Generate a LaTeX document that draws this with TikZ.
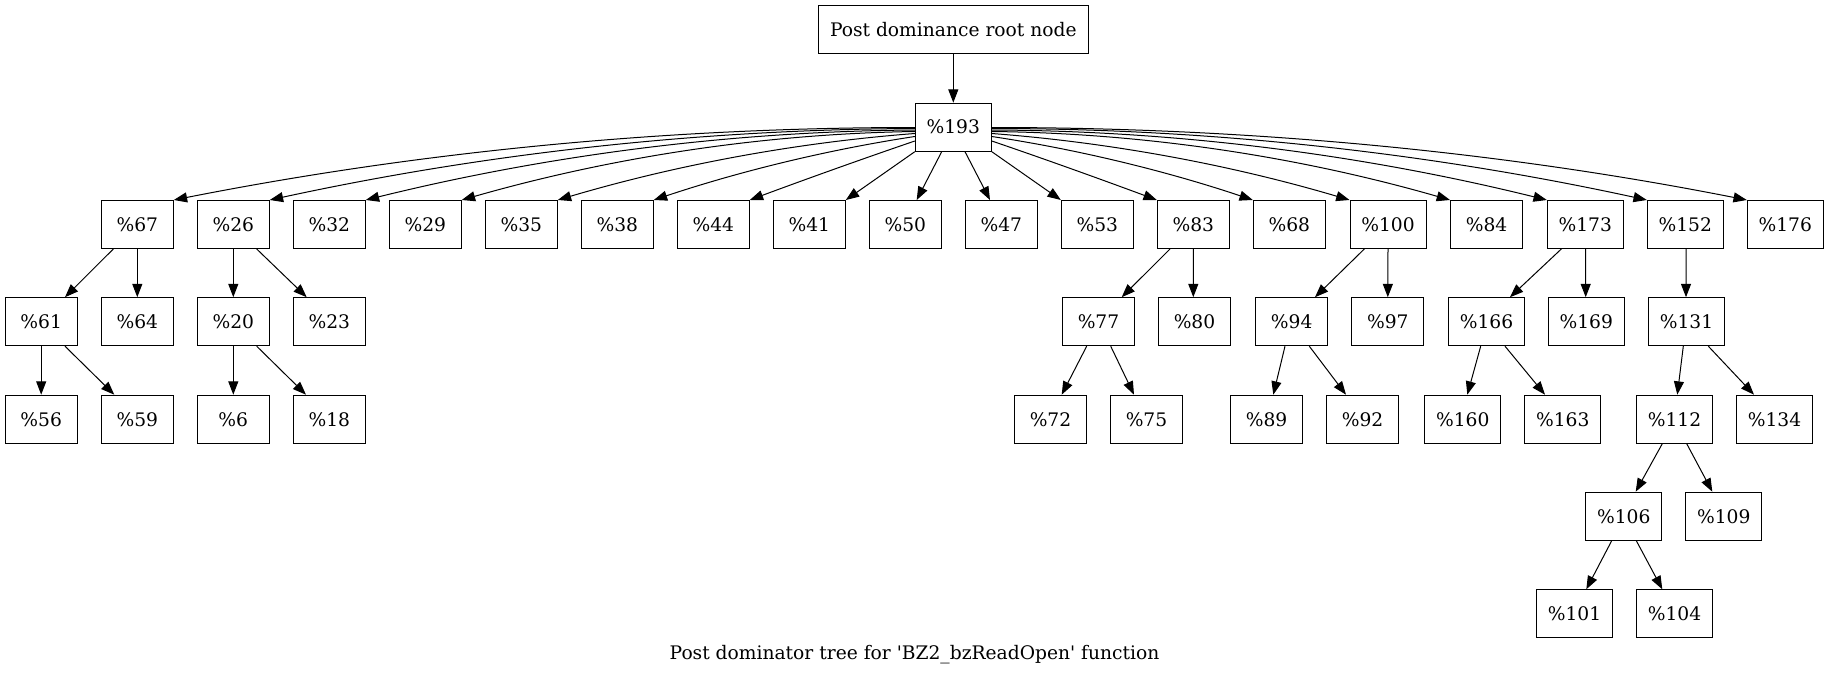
\documentclass[tikz,border=0pt]{standalone}
\usepackage{fontspec}
\newfontfamily\dvs{DejaVu Serif}
\usetikzlibrary{arrows.meta,calc}
\tikzset{
  nb/.style={draw, line width=0.75pt, rectangle, minimum width=54pt, minimum height=36pt,
             inner sep=0pt, font=\dvs\fontsize{14}{17}\selectfont},
  wb/.style={nb, minimum width=57pt},
  ed/.style={line width=0.75pt, -{Triangle[length=10pt,width=7.5pt]}},
  captxt/.style={font=\dvs\fontsize{14}{17}\selectfont, inner sep=0pt, anchor=base}
}
\newcommand{\te}[4]{\draw[ed] ($(#1.south)+(#3,0)$) -- ($(#2.north)+(#4,0)$);}
\begin{document}
\begin{tikzpicture}[x=0.75pt, y=-0.75pt]
\useasboundingbox (0,0) rectangle (1829,675);
% top
\node[nb, minimum width=202.5pt] (root) at (953.3,29.7) {Post dominance root node};
\node[wb] (n193) at (953.3,127.2) {\%193};
% row 1
\node[nb] (n67) at (137.3,224.5) {\%67};
\node[nb] (n26) at (233.3,224.5) {\%26};
\node[nb] (n32) at (329.3,224.5) {\%32};
\node[nb] (n29) at (425.3,224.5) {\%29};
\node[nb] (n35) at (521.3,224.5) {\%35};
\node[nb] (n38) at (617.3,224.5) {\%38};
\node[nb] (n44) at (713.3,224.5) {\%44};
\node[nb] (n41) at (809.3,224.5) {\%41};
\node[nb] (n50) at (905.3,224.5) {\%50};
\node[nb] (n47) at (1001.3,224.5) {\%47};
\node[nb] (n53) at (1097.3,224.5) {\%53};
\node[nb] (n83) at (1193.3,224.5) {\%83};
\node[nb] (n68) at (1289.3,224.5) {\%68};
\node[wb] (n100) at (1388,224.5) {\%100};
\node[nb] (n84) at (1486.5,224.5) {\%84};
\node[wb] (n173) at (1585.3,224.5) {\%173};
\node[wb] (n152) at (1685.3,224.5) {\%152};
\node[wb] (n176) at (1785.3,224.5) {\%176};
% row 2
\node[nb] (n61) at (41.2,321.7) {\%61};
\node[nb] (n64) at (137.3,321.7) {\%64};
\node[nb] (n20) at (233.3,321.7) {\%20};
\node[nb] (n23) at (329.3,321.7) {\%23};
\node[nb] (n77) at (1098.5,321.7) {\%77};
\node[nb] (n80) at (1194.5,321.7) {\%80};
\node[nb] (n94) at (1291.7,321.7) {\%94};
\node[nb] (n97) at (1387.8,321.7) {\%97};
\node[wb] (n166) at (1486.5,321.7) {\%166};
\node[wb] (n169) at (1586.3,321.7) {\%169};
\node[wb] (n131) at (1686.5,321.7) {\%131};
% row 3
\node[nb] (n56) at (41.2,419.2) {\%56};
\node[nb] (n59) at (137.3,419.2) {\%59};
\node[nb] (n6) at (233.3,419.2) {\%6};
\node[nb] (n18) at (329.3,419.2) {\%18};
\node[nb] (n72) at (1050.5,419.2) {\%72};
\node[nb] (n75) at (1146.5,419.2) {\%75};
\node[nb] (n89) at (1266.5,419.2) {\%89};
\node[nb] (n92) at (1362.5,419.2) {\%92};
\node[wb] (n160) at (1462.7,419.2) {\%160};
\node[wb] (n163) at (1562.7,419.2) {\%163};
\node[wb] (n112) at (1674.5,419.2) {\%112};
\node[wb] (n134) at (1774.5,419.2) {\%134};
% row 4
\node[wb] (n106) at (1623.8,516.2) {\%106};
\node[wb] (n109) at (1723.8,516.2) {\%109};
% row 5
\node[wb] (n101) at (1574.5,613.8) {\%101};
\node[wb] (n104) at (1674.5,613.8) {\%104};
% caption
\node[captxt] (caption) at (914.5,659) {Post dominator tree for 'BZ2\_bzReadOpen' function};

% edges
\draw[ed] (root) -- (n193);
% left curved
\draw[ed] ($(n193.west)+(0,0.3)$) .. controls (667.8,127.5) and (420.5,151.3) .. (n67.north east);
\draw[ed] ($(n193.west)+(0,1.3)$) .. controls (699.8,129.4) and (484.5,153.4) .. (n26.north east);
\draw[ed] ($(n193.west)+(0,2.8)$) .. controls (731.8,131.3) and (548.5,154.9) .. (n32.north east);
\draw[ed] ($(n193.west)+(0,4.3)$) .. controls (763.8,133.8) and (612.5,156.9) .. (n29.north east);
\draw[ed] ($(n193.west)+(0,6.3)$) .. controls (795.8,142.6) and (676.5,164.9) .. (n35.north east);
\draw[ed] ($(n193.west)+(0,9.3)$) .. controls (827.8,149.7) and (740.5,171.1) .. (n38.north east);
\draw[ed] ($(n193.west)+(0,13.8)$) .. controls (859.8,159.8) and (804.5,179.7) .. (n44.north east);
% straight from bottom
\draw[ed] (n193.south west) -- (n41.north east);
\draw[ed] ($(n193.south)+(-11.6,0)$) -- ($(n50.north)+(11.4,0)$);
\draw[ed] ($(n193.south)+(11.7,0)$) -- ($(n47.north)+(-11.3,0)$);
\draw[ed] (n193.south east) -- (n53.north west);
% right curved
\draw[ed] ($(n193.east)+(0,13.8)$) .. controls (1046.6,159.7) and (1102,179.7) .. (n83.north west);
\draw[ed] ($(n193.east)+(0,9.3)$) .. controls (1078.6,149.6) and (1166,171) .. (n68.north west);
\draw[ed] ($(n193.east)+(0,6.3)$) .. controls (1110.9,142.5) and (1230.4,164.8) .. (n100.north west);
\draw[ed] ($(n193.east)+(0,4.3)$) .. controls (1144.4,133.2) and (1297.6,156.3) .. (n84.north west);
\draw[ed] ($(n193.east)+(0,2.8)$) .. controls (1176.6,130.7) and (1362,154.4) .. (n173.north west);
\draw[ed] ($(n193.east)+(0,1.3)$) .. controls (1210,128.5) and (1428.6,152.6) .. (n152.north west);
\draw[ed] ($(n193.east)+(0,0.3)$) .. controls (1243.3,127.5) and (1495.3,150.3) .. (n176.north west);
% tree edges
\te{n67}{n61}{-24}{23.8}
\te{n67}{n64}{0}{0}
\te{n26}{n20}{0}{0}
\te{n26}{n23}{23.4}{-22.6}
\te{n61}{n56}{0}{0}
\te{n61}{n59}{23.8}{-23}
\te{n20}{n6}{0}{0}
\te{n20}{n18}{23.4}{-23.3}
\te{n83}{n77}{-23.3}{23.2}
\te{n83}{n80}{0}{-1.2}
\te{n100}{n94}{-23.7}{23.3}
\te{n100}{n97}{0}{0}
\te{n77}{n72}{-11.8}{11.2}
\te{n77}{n75}{12.2}{-12.5}
\te{n94}{n89}{-6.7}{6.8}
\te{n94}{n92}{17.6}{-16.5}
\te{n173}{n166}{-24}{23.5}
\te{n173}{n169}{0.4}{-0.6}
\te{n152}{n131}{0.7}{-0.5}
\te{n166}{n160}{-5.8}{4.6}
\te{n166}{n163}{18.5}{-17.7}
\te{n131}{n112}{-3.2}{2.8}
\te{n131}{n134}{21.8}{-20.5}
\te{n112}{n106}{-12.2}{11.9}
\te{n112}{n109}{12.2}{-11.5}
\te{n106}{n101}{-12.1}{11.8}
\te{n106}{n104}{12.5}{-12.2}
\end{tikzpicture}
\end{document}
